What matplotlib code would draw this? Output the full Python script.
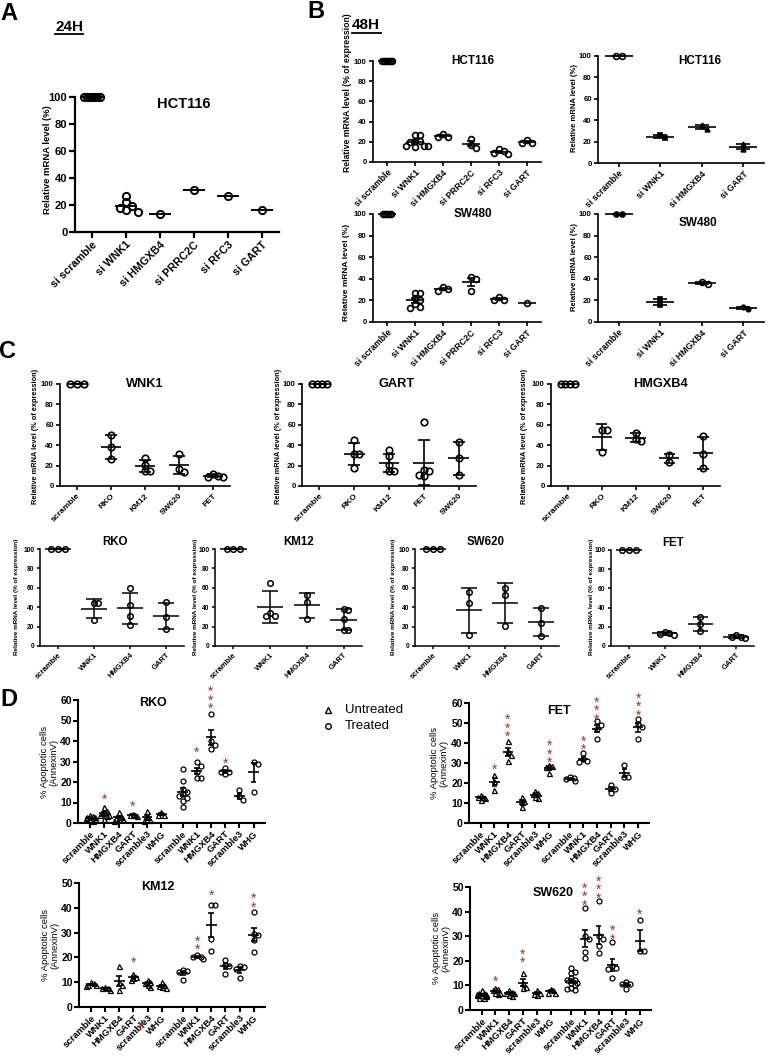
import numpy as np
import matplotlib.pyplot as plt
from matplotlib.lines import Line2D

plt.rcParams['font.family'] = ['Liberation Sans', 'DejaVu Sans']

W, H = 768, 1056
RED = '#b02a2a'

# ---------------- data ----------------
# A : 24H, HCT116
a_labels = ['si scramble', 'si WNK1', 'si HMGXB4', 'si PRRC2C', 'si RFC3', 'si GART']
a_scramble = [100] * 7
a_wnk1 = [27, 22, 19, 18, 16, 15]
a_hmgxb4 = [13]
a_prrc2c = [31]
a_rfc3 = [27]
a_gart = [16]

# B : 48H, left column
b_labels = ['si scramble', 'si WNK1', 'si HMGXB4', 'si PRRC2C', 'si RFC3', 'si GART']
b_hct_scramble = [100] * 7
b_hct_wnk1 = [27, 27, 21, 21, 20, 16, 16, 16, 15]
b_hct_hmgxb4 = [28, 25, 25]
b_hct_prrc2c = [23, 17, 14]
b_hct_rfc3 = [13, 11, 9, 8]
b_hct_gart = [22, 19, 19]

b_sw_scramble = [100] * 6
b_sw_wnk1 = [27, 27, 22, 20, 17, 14, 13]
b_sw_hmgxb4 = [29, 31, 32]
b_sw_prrc2c = [42, 40, 29]
b_sw_rfc3 = [23, 20, 20]
b_sw_gart = [18]

# B : 48H, right column
br_labels = ['si scramble', 'si WNK1', 'si HMGXB4', 'si GART']
br_hct_scramble = [100, 100]
br_hct_wnk1 = [23, 26.5]
br_hct_hmgxb4 = [32, 35.5]
br_hct_gart = [13, 17.5]
br_sw_scramble = [100, 100]
br_sw_wnk1 = [15.5, 21]
br_sw_hmgxb4 = [35, 37]
br_sw_gart = [12.5, 13.5]

# C : row 1 (per gene, across cell lines)
c_wnk1_labels = ['scramble', 'RKO', 'KM12', 'SW620', 'FET']
c_wnk1 = [[100] * 3, [50, 38, 26], [27, 21, 15, 15], [31, 17, 14], [10, 9, 9, 12]]
c_gart_labels = ['scramble', 'RKO', 'KM12', 'FET', 'SW620']
c_gart = [[100] * 4, [45, 31, 31, 18], [35, 29, 21, 15, 15], [63, 16, 15, 10, 11], [43, 27, 11]]
c_hmg_labels = ['scramble', 'RKO', 'KM12', 'SW620', 'FET']
c_hmg = [[100] * 4, [55, 55, 33], [52, 44, 46], [24, 30], [49, 31, 18]]

# C : row 2 (per cell line, across genes)
c2_labels = ['scramble', 'WNK1', 'HMGXB4', 'GART']
c2_rko = [[100] * 3, [44, 44, 27], [60, 42, 31, 22], [45, 30, 18]]
c2_km12 = [[100] * 3, [65, 34, 31, 31], [53, 45, 28], [38, 37, 28, 16, 16]]
c2_sw620 = [[100] * 3, [56, 44, 11], [60, 53, 21], [39, 24, 10]]
c2_fet = [[100] * 3, [14, 11.5, 13, 14.5], [30, 23, 16], [9.5, 8.5, 9, 11.5]]

# D : apoptosis, untreated / treated
d_labels = ['scramble', 'WNK1', 'HMGXB4', 'GART', 'scramble3', 'WHG']
d_rko_u = [[4, 3, 3, 2.5, 2, 1.5, 1, 3.5], [8, 6, 5, 4, 4, 3.5, 2, 5.5], [5.5, 3, 2.5, 2, 1, 3],
           [4.5, 4, 4, 3.5], [6, 3, 1.5, 1], [5.5, 4, 4]]
d_rko_t = [[26.5, 20.5, 16.5, 15, 14, 13, 12, 10.5, 8], [30, 28, 25, 22, 22], [53, 40, 38, 36],
           [27, 25, 25, 24], [16, 13, 11], [30, 29, 15]]
d_fet_u = [[14, 13, 12.5, 11.5, 13], [24, 21, 16.5], [41, 36, 34, 31], [13, 11, 10.5, 8],
           [16, 15, 14.5, 13, 12.5], [29, 28.5, 28, 25]]
d_fet_t = [[23, 22.5, 21, 22], [35, 32, 30.5, 31], [51, 49, 47, 42], [19, 17, 15], [29, 23, 23],
           [52, 49.5, 48, 42]]
d_km12_u = [[10, 9.5, 9, 9, 8.5], [8, 7.5, 7, 7.5], [16.5, 10, 9, 7], [13.5, 12, 11, 11.5],
            [11, 10, 9.5, 9, 8], [10, 9, 8.5, 8, 7.5]]
d_km12_t = [[15, 14.5, 14, 11], [21, 20, 19.5, 20], [41, 41, 27.5, 22.5], [19, 17, 16.5, 13.5],
            [16.5, 16, 15.5, 11.5], [38.5, 29.5, 29, 27, 22]]
d_sw620_u = [[8, 7, 7, 6.5, 6, 6, 5.5, 5, 5, 6, 6.5], [9, 8.5, 8, 7, 7, 6.5], [8, 7.5, 7, 6, 5.5, 7],
             [15, 11, 9.5, 9], [8, 7, 6.5, 6], [8.5, 8, 7, 7]]
d_sw620_t = [[17, 15.5, 15, 13, 12, 11, 10, 9, 8.5, 8, 11, 12], [41.5, 30, 29, 23.5, 21],
             [44.5, 30, 29, 26, 23], [27.5, 18, 17, 16.5, 13], [11.5, 10.5, 10.5, 8.5], [36.5, 24, 24]]

# significance stars: (category index 0-11, lowest star value, number of stars)
d_rko_stars = [(1, 13.5, 1), (3, 9.8, 1), (7, 36, 1), (8, 57.6, 3), (9, 31, 1)]
d_fet_stars = [(1, 28.5, 1), (2, 45, 3), (5, 32, 3), (7, 38.5, 2), (8, 53.6, 3), (11, 55.6, 3)]
d_km12_stars = [(3, 19.3, 1), (7, 24.5, 2), (8, 46.5, 1), (11, 41.8, 2)]
d_sw620_stars = [(1, 13.1, 1), (3, 20.8, 2), (7, 44, 3), (8, 46.9, 3), (9, 30.2, 2), (11, 40.3, 1)]

# ---------------- helpers ----------------
fig = plt.figure(figsize=(W / 100, H / 100), dpi=100)


def add_ax(l, t, r, b):
    return fig.add_axes([l / W, 1 - b / H, (r - l) / W, (b - t) / H])


def ftext(x, y, s, **kw):
    kw.setdefault('ha', 'center')
    kw.setdefault('va', 'center')
    fig.text(x / W, 1 - y / H, s, **kw)


def setup(ax, xlim, ylim, yticks, labels, pos, fy, fx, lw=1.2, tl=3, pad=1.5):
    for s in ('top', 'right'):
        ax.spines[s].set_visible(False)
    for s in ('left', 'bottom'):
        ax.spines[s].set_linewidth(lw)
    ax.set_xlim(*xlim)
    ax.set_ylim(*ylim)
    ax.set_yticks(yticks)
    ax.set_yticklabels([str(v) for v in yticks], fontsize=fy, fontweight='bold')
    ax.set_xticks(pos)
    ax.set_xticklabels(labels, rotation=45, ha='right', rotation_mode='anchor',
                       fontsize=fx, fontweight='bold')
    ax.tick_params(width=lw, length=tl, pad=pad)
    ax.patch.set_alpha(0)


def offsets(ax, vals, ms, step, maxoff):
    p = ax.get_position()
    d = ms * 100 / 72
    x0, x1 = ax.get_xlim()
    y0, y1 = ax.get_ylim()
    dx = step * d * (x1 - x0) / (p.width * W)
    dy = 0.9 * d * (y1 - y0) / (p.height * H)
    if np.ptp(vals) == 0:
        return (np.arange(len(vals)) - (len(vals) - 1) / 2) * dx
    off = np.zeros(len(vals))
    done = []
    cand = [0] + [s * k for k in range(1, 30) for s in (1, -1)]
    for i in np.argsort(-vals):
        for c in cand:
            if all(abs(vals[i] - vals[j]) >= dy or abs(c * dx - off[j]) >= dx * 0.99 for j in done):
                off[i] = c * dx
                break
        done.append(i)
    return np.clip(off, -maxoff, maxoff)


def dots(ax, x, vals, ms=5, marker='o', filled=False, err=None, mw=0.3, cw=0.15, lw=1.2,
         step=0.8, mew=None, maxoff=0.45):
    vals = np.asarray(vals, float)
    off = offsets(ax, vals, ms, step, maxoff)
    ax.plot(x + off, vals, ls='none', marker=marker, ms=ms, mec='k',
            mfc='k' if filled else 'none', mew=mew or lw, clip_on=False, zorder=3)
    m = vals.mean()
    kw = dict(color='k', lw=lw, clip_on=False, zorder=4, solid_capstyle='butt')
    ax.plot([x - mw, x + mw], [m, m], **kw)
    if err and len(vals) > 1:
        e = vals.std(ddof=1)
        if err == 'sem':
            e /= np.sqrt(len(vals))
        lo = max(m - e, ax.get_ylim()[0])
        ax.plot([x, x], [lo, m + e], **kw)
        ax.plot([x - cw, x + cw], [m + e, m + e], **kw)
        if lo > ax.get_ylim()[0]:
            ax.plot([x - cw, x + cw], [lo, lo], **kw)


def stars(ax, x, y, n, fs=10):
    # one stacked text per group, bottom star centred on y
    ax.annotate('\n'.join(['*'] * n), (x, y), xytext=(0, -0.79 * fs), textcoords='offset points',
                ha='center', va='bottom', linespacing=0.5, color=RED, fontsize=fs,
                annotation_clip=False)


# ---------------- panel A ----------------
ftext(9, 14, 'A', fontsize=17, fontweight='bold')
ftext(69, 27, '24H', fontsize=11, fontweight='bold')
fig.add_artist(Line2D([55 / W, 83 / W], [1 - 34 / H] * 2, transform=fig.transFigure, lw=1.3, color='k'))

axA = add_ax(75, 97, 279, 232)
setup(axA, (-0.5, 5.5), (0, 100), list(range(0, 101, 20)), a_labels, range(6), 8, 7.8, lw=1.6, tl=4)
for i, v in enumerate([a_scramble, a_wnk1, a_hmgxb4, a_prrc2c, a_rfc3, a_gart]):
    dots(axA, i, v, ms=5.2, mw=0.33, lw=1.4, step=0.35 if i == 0 else 0.8)
ftext(184, 104, 'HCT116', fontsize=10.5, fontweight='bold')
ftext(47, 160, 'Relative mRNA level (%)', rotation=90, fontsize=6.8, fontweight='bold')

# ---------------- panel B ----------------
ftext(316, 12, 'B', fontsize=17, fontweight='bold')
ftext(366, 25, '48H', fontsize=11, fontweight='bold')
fig.add_artist(Line2D([352 / W, 381 / W], [1 - 33 / H] * 2, transform=fig.transFigure, lw=1.3, color='k'))

panels_bl = [
    ((373, 61, 541, 162), [b_hct_scramble, b_hct_wnk1, b_hct_hmgxb4, b_hct_prrc2c, b_hct_rfc3, b_hct_gart],
     'HCT116', (473, 61), 'Relative mRNA level (% of expression)', (347, 93), 6.2),
    ((373, 214, 541, 322), [b_sw_scramble, b_sw_wnk1, b_sw_hmgxb4, b_sw_prrc2c, b_sw_rfc3, b_sw_gart],
     'SW480', (473, 214), 'Relative mRNA level (%)', (347, 272), 6.0),
]
for rect, groups, title, tpos, ylab, ypos, yfs in panels_bl:
    ax = add_ax(*rect)
    setup(ax, (-0.5, 5.5), (0, 100), list(range(0, 101, 20)), b_labels, range(6), 5.6, 6.3, lw=1.2, tl=3)
    for i, v in enumerate(groups):
        dots(ax, i, v, ms=4.2, mw=0.32, cw=0.15, lw=1.2, err='sem', step=0.3 if i == 0 else 0.8)
    ftext(*tpos, title, fontsize=8.5, fontweight='bold')
    ftext(*ypos, ylab, rotation=90, fontsize=yfs, fontweight='bold')

br_hct_style = [('o', False, 4.2), ('s', True, 3.2), ('^', True, 3.4), ('^', True, 3.4)]
br_sw_style = [('o', True, 3.6), ('s', True, 3.2), ('o', False, 4.2), ('o', True, 3.2)]
panels_br = [
    ((598, 56, 764, 163), [br_hct_scramble, br_hct_wnk1, br_hct_hmgxb4, br_hct_gart], br_hct_style,
     'HCT116', (700, 61), (574, 108)),
    ((598, 214, 764, 322), [br_sw_scramble, br_sw_wnk1, br_sw_hmgxb4, br_sw_gart], br_sw_style,
     'SW480', (698, 223), (574, 267)),
]
for rect, groups, styles, title, tpos, ypos in panels_br:
    ax = add_ax(*rect)
    setup(ax, (-0.5, 3.5), (0, 100), list(range(0, 101, 20)), br_labels, range(4), 5.6, 6.3, lw=1.2, tl=3)
    for i, (v, (mk, fl, ms)) in enumerate(zip(groups, styles)):
        dots(ax, i, v, ms=ms, marker=mk, filled=fl, mw=0.34, cw=0.17, lw=1.2, err='sem', step=1.1)
    ftext(*tpos, title, fontsize=8.5, fontweight='bold')
    ftext(*ypos, 'Relative mRNA level (%)', rotation=90, fontsize=5.5, fontweight='bold')

# ---------------- panel C ----------------
ftext(8, 352, 'C', fontsize=17, fontweight='bold')
ylab_c = 'Relative mRNA level (% of expression)'
panels_c1 = [
    ((60, 384, 230, 486), c_wnk1, c_wnk1_labels, 'WNK1', (145, 384), (36, 436), 1.0),
    ((302, 384, 476, 486), c_gart, c_gart_labels, 'GART', (397, 384), (278, 436), 0.75),
    ((551, 384, 720, 486), c_hmg, c_hmg_labels, 'HMGXB4', (660, 384), (525, 436), 0.75),
]
for rect, groups, labels, title, tpos, ypos, sstep in panels_c1:
    ax = add_ax(*rect)
    setup(ax, (-0.5, 4.5), (0, 100), list(range(0, 101, 20)), labels, range(5), 5.6, 6.0, lw=1.2, tl=3)
    for i, v in enumerate(groups):
        dots(ax, i, v, ms=4.7, mw=0.3, cw=0.17, lw=1.2, err='sd', step=sstep if i == 0 else 0.8)
    ftext(*tpos, title, fontsize=9.2, fontweight='bold')
    ftext(*ypos, ylab_c, rotation=90, fontsize=5.3, fontweight='bold')

panels_c2 = [
    ((40, 549, 184, 646), c2_rko, 'RKO', (115, 542), (17, 597)),
    ((215, 549, 362, 646), c2_km12, 'KM12', (299, 542), (195, 597)),
    ((415, 549, 559, 646), c2_sw620, 'SW620', (486, 542), (393, 597)),
    ((611, 550, 754, 646), c2_fet, 'FET', (673, 543), (591, 597)),
]
for rect, groups, title, tpos, ypos in panels_c2:
    ax = add_ax(*rect)
    setup(ax, (-0.5, 3.5), (0, 100), list(range(0, 101, 20)), c2_labels, range(4), 4.8, 5.5, lw=1.1, tl=2.5)
    for i, v in enumerate(groups):
        dots(ax, i, v, ms=4.0, mw=0.36, cw=0.22, lw=1.1, err='sd', step=1.2 if i == 0 else 0.8)
    ftext(*tpos, title, fontsize=8.3, fontweight='bold')
    ftext(*ypos, ylab_c, rotation=90, fontsize=4.6, fontweight='bold')

# ---------------- panel D ----------------
ftext(9, 700, 'D', fontsize=17, fontweight='bold')
d_pos = [0, 1, 2, 3, 4, 5, 6.5, 7.5, 8.5, 9.5, 10.5, 11.5]
panels_d = [
    ((78, 700, 265, 823), d_rko_u, d_rko_t, d_rko_stars, 60, 'RKO', (153, 703), (49, 762)),
    ((469, 703, 649, 823), d_fet_u, d_fet_t, d_fet_stars, 60, 'FET', (559, 711), (439, 763)),
    ((79, 883, 265, 1007), d_km12_u, d_km12_t, d_km12_stars, 50, 'KM12', (158, 887), (50, 945)),
    ((470, 887, 651, 1010), d_sw620_u, d_sw620_t, d_sw620_stars, 50, 'SW620', (553, 893), (441, 948)),
]
for rect, gu, gt, st, ymax, title, tpos, ypos in panels_d:
    ax = add_ax(*rect)
    setup(ax, (-0.85, 12.3), (0, ymax), list(range(0, ymax + 1, 10)), d_labels * 2, d_pos,
          7.5, 6.8, lw=1.5, tl=3.5, pad=1.0)
    for i, v in enumerate(gu):
        dots(ax, d_pos[i], v, ms=3.6, marker='^', mw=0.38, cw=0.2, lw=1.2, mew=0.9, err='sem',
             step=0.55, maxoff=0.32)
    for i, v in enumerate(gt):
        dots(ax, d_pos[i + 6], v, ms=3.6, marker='o', mw=0.38, cw=0.2, lw=1.2, mew=0.9, err='sem',
             step=0.8, maxoff=0.4)
    for idx, yv, n in st:
        stars(ax, d_pos[idx], yv, n)
    ftext(*tpos, title, fontsize=9, fontweight='bold')
    ftext(*ypos, '% Apoptotic cells\n(AnnexinV)', rotation=90, fontsize=6.8, linespacing=1.0)

# stray asterisk under the KM12 axis
ftext(141, 1031, '*', fontsize=17, color=RED)

# legend for D
for yy, mk, lab in [(710, '^', 'Untreated'), (726, 'o', 'Treated')]:
    fig.add_artist(Line2D([328 / W], [1 - yy / H], transform=fig.transFigure, marker=mk, ms=4,
                          mfc='none', mec='k', mew=1.0, ls='none'))
    ftext(345, yy, lab, fontsize=9.5, ha='left')

fig.savefig('out.png', dpi=100)
